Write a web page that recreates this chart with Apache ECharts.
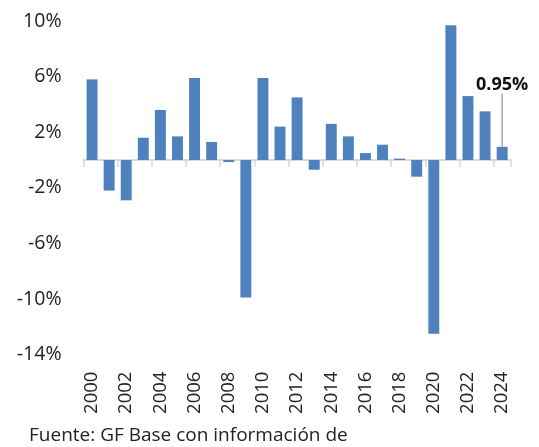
<!DOCTYPE html>
<html>
<head>
<meta charset="utf-8">
<script src="https://cdn.jsdelivr.net/npm/echarts@6/dist/echarts.min.js"></script>
<style>
  html, body { margin: 0; padding: 0; background: #fff; }
  #chart { width: 539px; height: 447px; }
</style>
</head>
<body>
<div id="chart"></div>
<script>
const years = ['2000', '2001', '2002', '2003', '2004', '2005', '2006', '2007', '2008', '2009',
  '2010', '2011', '2012', '2013', '2014', '2015', '2016', '2017', '2018', '2019',
  '2020', '2021', '2022', '2023', '2024']
const growth = [5.8, -2.2, -2.9, 1.6, 3.6, 1.7, 5.9, 1.3, -0.15, -9.9,
  5.9, 2.4, 4.5, -0.7, 2.6, 1.7, 0.5, 1.1, 0.1, -1.2,
  -12.5, 9.7, 4.6, 3.5, 0.95]
const yTicks = [-14, -10, -6, -2, 2, 6, 10]
const calloutIndex = 24
const sourceNote = 'Fuente: GF Base con información de'

const FONT = '"Open Sans", "Segoe UI", sans-serif'
const chart = echarts.init(document.getElementById('chart'))

const barData = growth.map((v, i) => i === calloutIndex
  ? {
      value: v,
      label: {
        show: true,
        position: 'top',
        distance: 5,
        formatter: v.toFixed(2) + '%',
        fontFamily: FONT,
        fontSize: 18,
        fontWeight: 'bold',
        color: '#111'
      },
      labelLine: { show: true, lineStyle: { color: '#a6a6a6', width: 1.5 } }
    }
  : v)

chart.setOption({
  animation: false,
  grid: { left: 83.5, right: 28.3, top: 21, bottom: 92.4 },
  graphic: [{
    type: 'text',
    left: 29,
    top: 426,
    style: { text: sourceNote, font: '19px ' + FONT, fill: '#222' }
  }],
  xAxis: [
    {
      type: 'category',
      data: years,
      axisLine: { onZero: true, lineStyle: { color: '#d9d9d9', width: 2 } },
      axisTick: { show: true, interval: 1, length: 7, lineStyle: { color: '#d9d9d9', width: 1.5 } },
      axisLabel: { show: false }
    },
    {
      type: 'category',
      data: years,
      position: 'bottom',
      axisLine: { show: false, onZero: false },
      axisTick: { show: false },
      axisLabel: {
        interval: 1,
        rotate: 90,
        margin: 17,
        color: '#222',
        fontFamily: FONT,
        fontSize: 18.5
      }
    }
  ],
  yAxis: {
    type: 'value',
    min: -14,
    max: 10,
    interval: 2,
    axisLine: { show: false },
    axisTick: { show: false },
    splitLine: { show: false },
    axisLabel: {
      margin: 22,
      color: '#222',
      fontFamily: FONT,
      fontSize: 19.5,
      formatter: (v) => (yTicks.includes(v) ? v + '%' : '')
    }
  },
  series: [{
    type: 'bar',
    xAxisIndex: 0,
    data: barData,
    barCategoryGap: '36%',
    itemStyle: { color: '#4f81bd' },
    labelLayout: (p) => (p.dataIndex === calloutIndex ? { dy: -48 } : {})
  }]
})
</script>
</body>
</html>
